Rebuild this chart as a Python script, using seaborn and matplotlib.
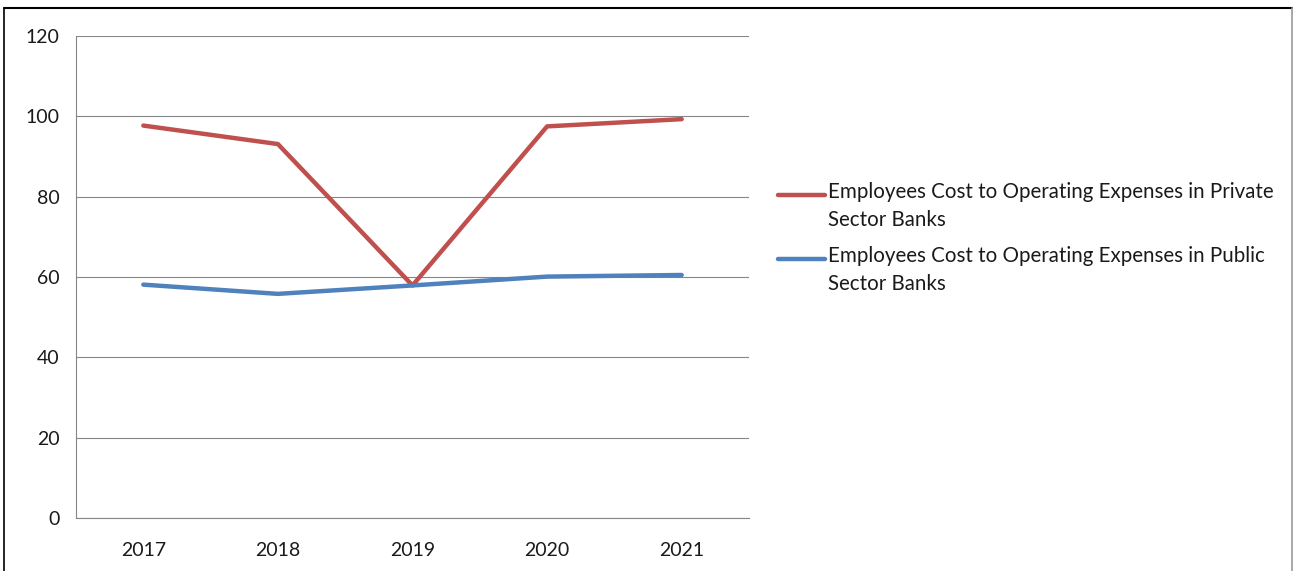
import matplotlib
matplotlib.use("Agg")
import matplotlib.pyplot as plt
from matplotlib.lines import Line2D
from matplotlib.legend_handler import HandlerLine2D
import numpy as np
import pandas as pd
import seaborn as sns

years = ["2017", "2018", "2019", "2020", "2021"]
private_banks = [97.7, 93.1, 57.9, 97.5, 99.3]
public_banks = [58.1, 55.8, 57.9, 60.1, 60.5]
series_names = [
    "Employees Cost to Operating Expenses in Private\nSector Banks",
    "Employees Cost to Operating Expenses in Public\nSector Banks",
]
y_ticks = [0, 20, 40, 60, 80, 100, 120]

df = pd.DataFrame({
    "Year": years * 2,
    "Value": private_banks + public_banks,
    "Series": [series_names[0]] * len(years) + [series_names[1]] * len(years),
})

sns.set_style("white")
plt.rcParams["font.family"] = ["Lato", "DejaVu Sans"]

FS = 14.8


class FirstLineHandler(HandlerLine2D):
    """Legend line drawn level with the first line of a two-line label."""

    def create_artists(self, legend, orig_handle, xdescent, ydescent,
                       width, height, fontsize, trans):
        return super().create_artists(legend, orig_handle, xdescent,
                                      ydescent - 1.12 * fontsize, width, height,
                                      fontsize, trans)


fig = plt.figure(figsize=(12.93, 5.71), dpi=100)
ax = fig.add_axes([76 / 1293, 1 - 518 / 571, (749 - 76) / 1293, (518 - 36) / 571])

grid_color = "#868686"
palette = {series_names[0]: "#C0504D", series_names[1]: "#4F81BD"}
sns.lineplot(data=df, x="Year", y="Value", hue="Series", palette=palette,
             linewidth=3.2, sort=False, ax=ax, legend=True)

ax.set_xlim(-0.5, len(years) - 0.5)
ax.set_ylim(0, 120)
ax.set_yticks(y_ticks)
ax.set_xlabel("")
ax.set_ylabel("")
ax.yaxis.grid(True, color=grid_color, linewidth=0.8)
ax.set_axisbelow(True)
for side in ["top", "right"]:
    ax.spines[side].set_visible(False)
for side in ["left", "bottom"]:
    ax.spines[side].set_color(grid_color)
    ax.spines[side].set_linewidth(0.8)

ax.set_xticks(np.arange(-0.5, len(years)), minor=True)
ax.tick_params(axis="x", which="major", length=0, pad=17, labelsize=14, labelcolor="#1a1a1a")
ax.tick_params(axis="x", which="minor", length=6, width=0.8, color=grid_color, direction="out")
ax.tick_params(axis="y", which="major", length=6, width=0.8, color=grid_color, pad=6,
               labelsize=14, labelcolor="#1a1a1a")

handles, labels = ax.get_legend_handles_labels()
ax.get_legend().remove()
leg = fig.legend(handles, labels, loc="upper left",
                 bbox_to_anchor=(759 / 1293, 1 - 163 / 571),
                 frameon=False, fontsize=FS, handlelength=2.3, handletextpad=0.15,
                 labelspacing=0.8, labelcolor="#1a1a1a",
                 handler_map={Line2D: FirstLineHandler()})
for t in leg.get_texts():
    t.set_linespacing(1.5)

# outer frame of the chart area
fig.add_artist(Line2D([4 / 1293, 1292 / 1293], [1 - 7.5 / 571] * 2,
                      transform=fig.transFigure, color="black", linewidth=1.5))
fig.add_artist(Line2D([4 / 1293] * 2, [0, 1 - 7.5 / 571],
                      transform=fig.transFigure, color="black", linewidth=1.2))
fig.add_artist(Line2D([1292 / 1293] * 2, [0, 1 - 7.5 / 571],
                      transform=fig.transFigure, color="#999999", linewidth=1.2))

fig.savefig("out.png", dpi=100)
